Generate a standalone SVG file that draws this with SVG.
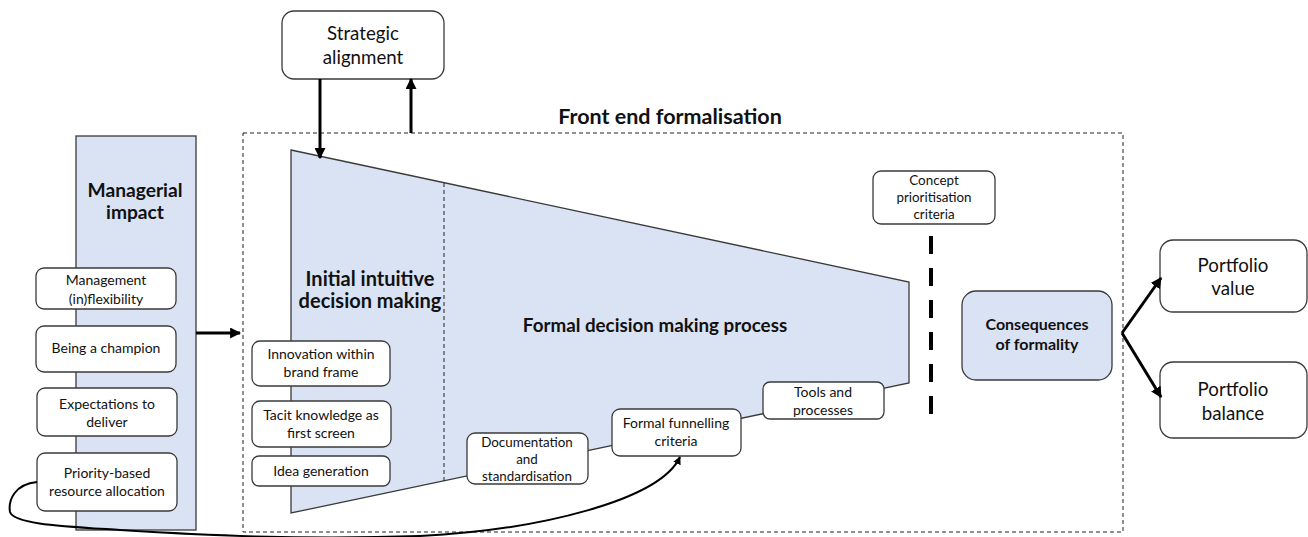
<svg xmlns="http://www.w3.org/2000/svg" width="1308" height="537" viewBox="0 0 1308 537">
  <defs>
    <style>
      text { font-family: Lato, "Open Sans", "Liberation Sans", sans-serif; fill: #111; text-anchor: middle; }
      .box { fill: #ffffff; stroke: #3a3a3a; stroke-width: 1.3; }
      .panel { fill: #dae3f3; stroke: #3a3a3a; stroke-width: 1.3; }
      .frame { fill: none; stroke: #222; stroke-width: 1; stroke-dasharray: 4 3; }
      .s { font-size: 14px; }
      .xs { font-size: 13.4px; }
      .m { font-size: 18.7px; }
      .b { font-weight: bold; }
      .thick { fill: none; stroke: #000; stroke-width: 3; }
      .thin { fill: none; stroke: #000; stroke-width: 2; }
    </style>
    <marker id="head" viewBox="0 0 10 10" refX="9" refY="5" markerWidth="11" markerHeight="11" markerUnits="userSpaceOnUse" orient="auto">
      <path d="M0,0 L10,5 L0,10 z" fill="#000"/>
    </marker>
    <marker id="headSmall" viewBox="0 0 10 10" refX="9" refY="5" markerWidth="8" markerHeight="8" markerUnits="userSpaceOnUse" orient="auto">
      <path d="M0,0 L10,5 L0,10 z" fill="#000"/>
    </marker>
  </defs>

  <!-- Front end formalisation frame -->
  <g id="front-end">
    <rect class="frame" x="243" y="133" width="880" height="399"/>
    <text class="b" x="670" y="124" font-size="21.5">Front end formalisation</text>
  </g>

  <!-- Funnel -->
  <g id="funnel">
    <path class="panel" d="M291,150 L909,282 L909,383 L291,513 Z"/>
    <line class="frame" x1="444" y1="183" x2="444" y2="481"/>
    <text class="b" x="370" y="286" font-size="20">Initial intuitive</text>
    <text class="b" x="370" y="308" font-size="20">decision making</text>
    <text class="b" x="655" y="332" font-size="18.8">Formal decision making process</text>
  </g>

  <!-- Managerial impact column -->
  <g id="managerial-impact">
    <rect class="panel" x="76" y="136" width="120" height="394"/>
    <text class="b" x="135" y="197" font-size="19.2">Managerial</text>
    <text class="b" x="135" y="219" font-size="19.2">impact</text>
  </g>

  <g id="management-flexibility">
    <rect class="box" x="36" y="268" width="140" height="41" rx="8"/>
    <text class="s" x="106" y="285">Management</text>
    <text class="s" x="106" y="304">(in)flexibility</text>
  </g>
  <g id="being-champion">
    <rect class="box" x="36" y="326" width="140" height="46" rx="8"/>
    <text class="s" x="106" y="353">Being a champion</text>
  </g>
  <g id="expectations">
    <rect class="box" x="37" y="388" width="140" height="48" rx="8"/>
    <text class="s" x="107" y="409">Expectations to</text>
    <text class="s" x="107" y="427">deliver</text>
  </g>
  <g id="priority-allocation">
    <rect class="box" x="37" y="453" width="140" height="58" rx="8"/>
    <text class="s" x="107" y="478">Priority-based</text>
    <text class="s" x="107" y="496">resource allocation</text>
  </g>

  <!-- Strategic alignment -->
  <g id="strategic-alignment">
    <rect class="box" x="282" y="11" width="162" height="68" rx="12"/>
    <text class="m" x="363" y="40">Strategic</text>
    <text class="m" x="363" y="64">alignment</text>
  </g>

  <!-- Boxes inside the funnel -->
  <g id="innovation-brand">
    <rect class="box" x="252" y="341" width="138" height="45" rx="8"/>
    <text class="s" x="321" y="359">Innovation within</text>
    <text class="s" x="321" y="377">brand frame</text>
  </g>
  <g id="tacit-knowledge">
    <rect class="box" x="252" y="401" width="139" height="46" rx="8"/>
    <text class="s" x="321" y="420">Tacit knowledge as</text>
    <text class="s" x="321" y="438">first screen</text>
  </g>
  <g id="idea-generation">
    <rect class="box" x="252" y="456" width="138" height="30" rx="7"/>
    <text class="s" x="321" y="476">Idea generation</text>
  </g>
  <g id="documentation">
    <rect class="box" x="467" y="433" width="121" height="51" rx="8"/>
    <text class="xs" x="527" y="447">Documentation</text>
    <text class="xs" x="527" y="464">and</text>
    <text class="xs" x="527" y="481">standardisation</text>
  </g>
  <g id="formal-funnelling">
    <rect class="box" x="612" y="409" width="129" height="47" rx="8"/>
    <text class="s" x="676" y="428">Formal funnelling</text>
    <text class="s" x="676" y="446">criteria</text>
  </g>
  <g id="tools-processes">
    <rect class="box" x="763" y="382" width="121" height="37" rx="7"/>
    <text class="s" x="823" y="397">Tools and</text>
    <text class="s" x="823" y="415">processes</text>
  </g>

  <!-- Concept prioritisation gate -->
  <g id="concept-prioritisation">
    <rect class="box" x="873" y="171" width="122" height="53" rx="8"/>
    <text class="xs" x="934" y="185">Concept</text>
    <text class="xs" x="934" y="202">prioritisation</text>
    <text class="xs" x="934" y="219">criteria</text>
  </g>
  <line id="gate" x1="931" y1="236" x2="931" y2="423" stroke="#000" stroke-width="4" stroke-dasharray="18 14"/>

  <!-- Consequences -->
  <g id="consequences">
    <rect class="panel" x="962" y="291" width="150" height="89" rx="14"/>
    <text class="b" x="1037" y="330" font-size="16">Consequences</text>
    <text class="b" x="1037" y="350" font-size="16">of formality</text>
  </g>

  <!-- Portfolio outcomes -->
  <g id="portfolio-value">
    <rect class="box" x="1160" y="240" width="147" height="72" rx="13"/>
    <text class="m" x="1233" y="272">Portfolio</text>
    <text class="m" x="1233" y="295">value</text>
  </g>
  <g id="portfolio-balance">
    <rect class="box" x="1160" y="362" width="147" height="76" rx="13"/>
    <text class="m" x="1233" y="396">Portfolio</text>
    <text class="m" x="1233" y="420">balance</text>
  </g>

  <!-- Connectors -->
  <g id="connectors">
    <line class="thick" x1="196" y1="333" x2="240" y2="333" marker-end="url(#head)"/>
    <line class="thick" x1="320" y1="79" x2="320" y2="158" marker-end="url(#head)"/>
    <line class="thick" x1="411" y1="133" x2="411" y2="79" marker-end="url(#head)"/>
    <line class="thick" x1="1122" y1="333" x2="1161" y2="278" marker-end="url(#head)"/>
    <line class="thick" x1="1122" y1="333" x2="1161" y2="397" marker-end="url(#head)"/>
    <path class="thin" d="M37,482 C15,484 8,500 10,512 C14,524 60,526 120,530 C200,535 300,540 420,536 C540,530 660,500 680,457" marker-end="url(#headSmall)"/>
  </g>
</svg>
